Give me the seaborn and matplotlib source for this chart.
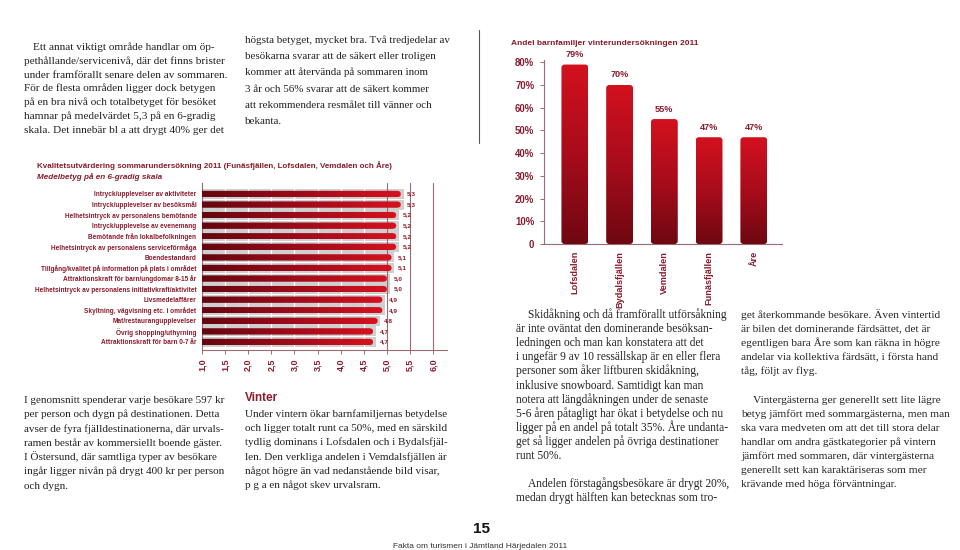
import numpy as np
import matplotlib
matplotlib.use('Agg')
import matplotlib.pyplot as plt
from matplotlib.colors import LinearSegmentedColormap
from matplotlib.patches import FancyBboxPatch
from matplotlib.lines import Line2D
import seaborn as sns

# Sommar: kvalitetsbetyg (medelbetyg, 6-gradig skala)
kategorier = [
    'Intryck/upplevelser av aktiviteter',
    'Intryck/upplevelser av besöksmål',
    'Helhetsintryck av personalens bemötande',
    'Intryck/upplevelse av evenemang',
    'Bemötande från lokalbefolkningen',
    'Helhetsintryck av personalens serviceförmåga',
    'Boendestandard',
    'Tillgång/kvalitet på information på plats i området',
    'Attraktionskraft för barn/ungdomar 8-15 år',
    'Helhetsintryck av personalens initiativkraft/aktivitet',
    'Livsmedelaffärer',
    'Skyltning, vägvisning etc. i området',
    'Mat/restaurangupplevelser',
    'Övrig shopping/uthyrning',
    'Attraktionskraft för barn 0-7 år',
]
betyg = [5.3, 5.3, 5.2, 5.2, 5.2, 5.2, 5.1, 5.1, 5.0, 5.0, 4.9, 4.9, 4.8, 4.7, 4.7]
betyg_ticks = [1.0, 1.5, 2.0, 2.5, 3.0, 3.5, 4.0, 4.5, 5.0, 5.5, 6.0]

# Vinter: andel barnfamiljer
orter = ['Lofsdalen', 'Bydalsfjällen', 'Vemdalen', 'Funäsfjällen', 'Åre']
andel = [79, 70, 55, 47, 47]
andel_ticks = [0, 10, 20, 30, 40, 50, 60, 70, 80]

text_a = [
    'Ett annat viktigt område handlar om öp-',
    'pethållande/servicenivå, där det finns brister',
    'under framförallt senare delen av sommaren.',
    'För de flesta områden ligger dock betygen',
    'på en bra nivå och totalbetyget för besöket',
    'hamnar på medelvärdet 5,3 på en 6-gradig',
    'skala. Det innebär bl a att drygt 40% ger det',
]
text_b = [
    'högsta betyget, mycket bra. Två tredjedelar av',
    'besökarna svarar att de säkert eller troligen',
    'kommer att återvända på sommaren inom',
    '3 år och 56% svarar att de säkert kommer',
    'att rekommendera resmålet till vänner och',
    'bekanta.',
]
text_c = [
    'I genomsnitt spenderar varje besökare 597 kr',
    'per person och dygn på destinationen. Detta',
    'avser de fyra fjälldestinationerna, där urvals-',
    'ramen består av kommersiellt boende gäster.',
    'I Östersund, där samtliga typer av besökare',
    'ingår ligger nivån på drygt 400 kr per person',
    'och dygn.',
]
text_d = [
    'Under vintern ökar barnfamiljernas betydelse',
    'och ligger totalt runt ca 50%, med en särskild',
    'tydlig dominans i Lofsdalen och i Bydalsfjäl-',
    'len. Den verkliga andelen i Vemdalsfjällen är',
    'något högre än vad nedanstående bild visar,',
    'p g a en något skev urvalsram.',
]
text_e = [
    'Skidåkning och då framförallt utförsåkning',
    'är inte oväntat den dominerande besöksan-',
    'ledningen och man kan konstatera att det',
    'i ungefär 9 av 10 ressällskap är en eller flera',
    'personer som åker liftburen skidåkning,',
    'inklusive snowboard. Samtidigt kan man',
    'notera att längdåkningen under de senaste',
    '5-6 åren påtagligt har ökat i betydelse och nu',
    'ligger på en andel på totalt 35%. Åre undanta-',
    'get så ligger andelen på övriga destinationer',
    'runt 50%.',
    '',
    'Andelen förstagångsbesökare är drygt 20%,',
    'medan drygt hälften kan betecknas som tro-',
]
text_f = [
    'get återkommande besökare. Även vintertid',
    'är bilen det dominerande färdsättet, det är',
    'egentligen bara Åre som kan räkna in högre',
    'andelar via kollektiva färdsätt, i första hand',
    'tåg, följt av flyg.',
    '',
    'Vintergästerna ger generellt sett lite lägre',
    'betyg jämfört med sommargästerna, men man',
    'ska vara medveten om att det till stora delar',
    'handlar om andra gästkategorier på vintern',
    'jämfört med sommaren, där vintergästerna',
    'generellt sett kan karaktäriseras som mer',
    'krävande med höga förväntningar.',
]

sns.set_theme(style='white')
plt.rcParams['font.family'] = ['Liberation Sans', 'DejaVu Sans']

MAROON = '#8a1b2c'
AXEL = '#9a6b72'
SERIF = ['Liberation Serif', 'DejaVu Serif']
W, H = 960, 550

fig = plt.figure(figsize=(9.6, 5.5), dpi=100)
fig.patch.set_facecolor('white')


def px(x, y):
    return x / W, 1 - y / H


def stycke(rader, x, y0, steg, indrag=None, indrag_rader=(0,), storlek=8.2):
    for i, rad in enumerate(rader):
        if not rad:
            continue
        xx = indrag if (indrag is not None and i in indrag_rader) else x
        fig.text(*px(xx, y0 + i * steg + 3), rad, family=SERIF, fontsize=storlek,
                 color='#222222', va='baseline', ha='left')


# ---- brödtext ----
stycke(text_a, 24, 47, 13.8, indrag=33, storlek=8.1)
stycke(text_b, 245, 40, 16.2, storlek=7.9)
stycke(text_c, 24, 400, 14.3, storlek=8.0)
fig.text(*px(245, 401), 'Vinter', fontsize=8.5, weight='bold',
         color=MAROON, va='baseline')
stycke(text_d, 245, 414, 14.2, storlek=8.0)
stycke(text_e, 516, 315, 14.1, indrag=528, indrag_rader=(0, 12), storlek=8.3)
stycke(text_f, 741, 315, 14.1, indrag=753, indrag_rader=(6,), storlek=8.2)

fig.add_artist(Line2D([479 / W] * 2, [1 - 30 / H, 1 - 143 / H], color='#555555', lw=0.8))

fig.text(*px(481, 533), '15', fontsize=11, weight='bold', color='#111111',
         ha='center', va='baseline')
fig.text(*px(480, 548), 'Fakta om turismen i Jämtland Härjedalen 2011', fontsize=6,
         color='#333333', ha='center', va='baseline')

# ---- vänster diagram: kvalitetsutvärdering ----
ax = fig.add_axes([202 / W, (H - 350) / H, 245 / W, 167 / H])
sns.barplot(x=betyg, y=kategorier, orient='h', color='#c0101e', width=0.6, ax=ax)
staplar = list(ax.patches)

pos = np.arange(len(betyg))
ax.barh(pos, np.array(betyg) + 0.06, height=0.95, color='#cfcfcf', zorder=1, lw=0)
for t in betyg_ticks[1:8]:
    ax.axvline(t, color='white', lw=0.9, zorder=1.5)
for t in betyg_ticks[8:]:
    ax.axvline(t, color=AXEL, lw=0.8, zorder=1.6)

cmap_h = LinearSegmentedColormap.from_list('h', ['#64060f', '#9e0b1a', '#d6121f'])
grad_h = np.linspace(0, 1, 256).reshape(1, -1)
for p in staplar:
    x0, y0, w, h = p.get_x(), p.get_y(), p.get_width(), p.get_height()
    p.set_visible(False)
    form = FancyBboxPatch((x0, y0), w, h, boxstyle='round,pad=0,rounding_size=0.085',
                          mutation_aspect=3.5, fc='none', ec='none', transform=ax.transData)
    ax.add_patch(form)
    im = ax.imshow(grad_h, cmap=cmap_h, extent=(1.0, x0 + w, y0 + h, y0),
                   aspect='auto', zorder=3, interpolation='bicubic')
    im.set_clip_path(form)

for i, v in enumerate(betyg):
    ax.text(v + 0.14, i, f'{v:.1f}'.replace('.', ','), va='center', ha='left',
            fontsize=4.6, weight='bold', color=MAROON)

ax.set_xlim(1.0, 6.3)
ax.set_ylim(len(betyg) - 0.24, -1.04)
ax.set_xticks(betyg_ticks)
ax.set_xticklabels([f'{t:.1f}'.replace('.', ',') for t in betyg_ticks], rotation=90,
                   fontsize=6.5, weight='bold', color=MAROON)
ax.set_yticks(pos)
ax.set_yticklabels(kategorier, fontsize=4.7, weight='bold', color=MAROON)
ax.tick_params(axis='y', length=0, pad=4)
ax.tick_params(axis='x', length=3, width=0.7, color=AXEL, pad=3, direction='out', bottom=True)
ax.set_xlabel('')
ax.set_ylabel('')
for s in ['top', 'right']:
    ax.spines[s].set_visible(False)
for s in ['left', 'bottom']:
    ax.spines[s].set_color(AXEL)
    ax.spines[s].set_linewidth(0.8)
ax.set_facecolor('none')

fig.text(*px(37, 168), 'Kvalitetsutvärdering sommarundersökning 2011 (Funäsfjällen, Lofsdalen, Vemdalen och Åre)',
         fontsize=5.75, weight='bold', color=MAROON, va='baseline')
fig.text(*px(37, 179), 'Medelbetyg på en 6-gradig skala', fontsize=5.9,
         weight='bold', style='italic', color=MAROON, va='baseline')

# ---- höger diagram: andel barnfamiljer ----
ax2 = fig.add_axes([544 / W, (H - 244) / H, 238 / W, 184 / H])
sns.barplot(x=orter, y=andel, color='#c0101e', width=0.6, ax=ax2)

cmap_v = LinearSegmentedColormap.from_list('v', ['#6e0812', '#a80c1b', '#d3111f'])
grad_v = np.linspace(0, 1, 256).reshape(-1, 1)
for p in list(ax2.patches):
    x0, y0, w, h = p.get_x(), p.get_y(), p.get_width(), p.get_height()
    p.set_visible(False)
    form = FancyBboxPatch((x0, y0), w, h, boxstyle='round,pad=0,rounding_size=0.07',
                          mutation_aspect=19, fc='none', ec='none', transform=ax2.transData)
    ax2.add_patch(form)
    im = ax2.imshow(grad_v, cmap=cmap_v, extent=(x0, x0 + w, y0, y0 + h), origin='lower',
                    aspect='auto', zorder=3, interpolation='bicubic')
    im.set_clip_path(form)

for i, v in enumerate(andel):
    ax2.text(i, v + 4.4, f'{v}%', ha='center', va='center', fontsize=6.6,
             weight='bold', color=MAROON)

ax2.set_xlim(-0.69, len(orter) - 0.37)
ax2.set_ylim(0, 81)
ax2.set_yticks(andel_ticks)
ax2.set_yticklabels(['0'] + [f'{t}%' for t in andel_ticks[1:]], fontsize=6.9,
                    weight='bold', color=MAROON)
ax2.set_xticks(range(len(orter)))
ax2.set_xticklabels(orter, rotation=90, fontsize=6.6, weight='bold', color=MAROON)
ax2.tick_params(axis='y', length=3, width=0.7, color=AXEL, pad=4, direction='out', left=True)
ax2.tick_params(axis='x', length=0, pad=5)
ax2.set_xlabel('')
ax2.set_ylabel('')
for s in ['top', 'right']:
    ax2.spines[s].set_visible(False)
for s in ['left', 'bottom']:
    ax2.spines[s].set_color(AXEL)
    ax2.spines[s].set_linewidth(0.8)
ax2.set_facecolor('none')

fig.text(*px(511, 45), 'Andel barnfamiljer vinterundersökningen 2011',
         fontsize=6.0, weight='bold', color=MAROON, va='baseline')

fig.savefig('out.png', dpi=100)
